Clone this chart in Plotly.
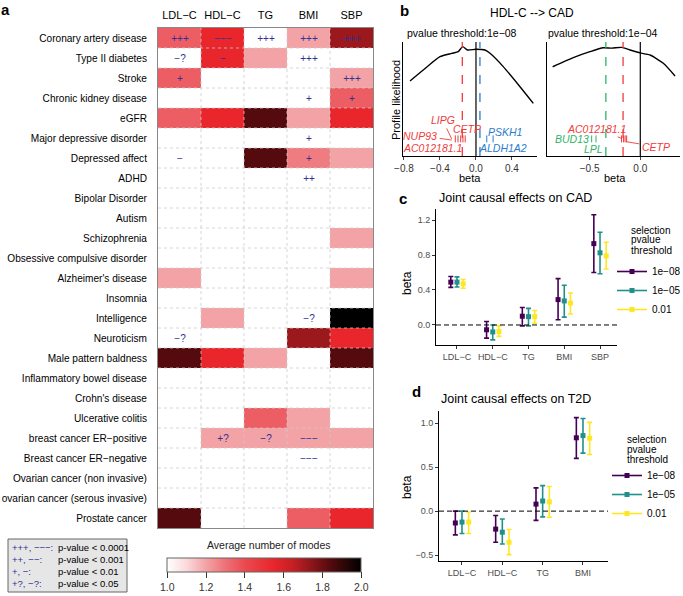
import plotly.graph_objects as go

W, H = 683, 596
FONT = "Liberation Sans, Arial, sans-serif"

# ---------------- panel a data ----------------
traits = ["LDL−C", "HDL−C", "TG", "BMI", "SBP"]
diseases = ["Coronary artery disease", "Type II diabetes", "Stroke", "Chronic kidney disease", "eGFR",
            "Major depressive disorder", "Depressed affect", "ADHD", "Bipolar Disorder", "Autism",
            "Schizophrenia", "Obsessive compulsive disorder", "Alzheimer's disease", "Insomnia",
            "Intelligence", "Neuroticism", "Male pattern baldness", "Inflammatory bowel disease",
            "Crohn's disease", "Ulcerative colitis", "breast cancer ER−positive",
            "Breast cancer ER−negative", "Ovarian cancer (non invasive)",
            "ovarian cancer (serous invasive)", "Prostate cancer"]
avg_modes = [
    [1.35, 1.55, 1.00, 1.20, 1.72],
    [1.00, 1.55, 1.20, 1.00, 1.00],
    [1.35, 1.00, 1.00, 1.00, 1.20],
    [1.00, 1.00, 1.00, 1.00, 1.35],
    [1.35, 1.55, 1.84, 1.20, 1.55],
    [1.00, 1.00, 1.00, 1.00, 1.00],
    [1.00, 1.00, 1.84, 1.28, 1.20],
    [1.00, 1.00, 1.00, 1.00, 1.00],
    [1.00, 1.00, 1.00, 1.00, 1.00],
    [1.00, 1.00, 1.00, 1.00, 1.00],
    [1.00, 1.00, 1.00, 1.00, 1.20],
    [1.00, 1.00, 1.00, 1.00, 1.00],
    [1.20, 1.00, 1.00, 1.00, 1.20],
    [1.00, 1.00, 1.00, 1.00, 1.00],
    [1.00, 1.20, 1.00, 1.00, 2.00],
    [1.00, 1.00, 1.00, 1.72, 1.55],
    [1.84, 1.55, 1.20, 1.00, 1.84],
    [1.00, 1.00, 1.00, 1.00, 1.00],
    [1.00, 1.00, 1.00, 1.00, 1.00],
    [1.00, 1.00, 1.35, 1.20, 1.00],
    [1.00, 1.20, 1.20, 1.20, 1.20],
    [1.00, 1.00, 1.00, 1.00, 1.00],
    [1.00, 1.00, 1.00, 1.00, 1.00],
    [1.00, 1.00, 1.00, 1.00, 1.00],
    [1.84, 1.00, 1.00, 1.35, 1.55],
]
signif = [
    ["+++", "−−−", "+++", "+++", "+++"],
    ["−?", "−", "", "+++", ""],
    ["+", "", "", "", "+++"],
    ["", "", "", "+", "+"],
    ["", "", "", "", ""],
    ["", "", "", "+", ""],
    ["−", "", "", "+", ""],
    ["", "", "", "++", ""],
    ["", "", "", "", ""],
    ["", "", "", "", ""],
    ["", "", "", "", ""],
    ["", "", "", "", ""],
    ["", "", "", "", ""],
    ["", "", "", "", ""],
    ["", "", "", "−?", ""],
    ["−?", "", "", "", ""],
    ["", "", "", "", ""],
    ["", "", "", "", ""],
    ["", "", "", "", ""],
    ["", "", "", "", ""],
    ["", "+?", "−?", "−−−", ""],
    ["", "", "", "−−−", ""],
    ["", "", "", "", ""],
    ["", "", "", "", ""],
    ["", "", "", "", ""],
]
cbar_ticks = [1.0, 1.2, 1.4, 1.6, 1.8, 2.0]
sig_legend_sym = ["+++, −−−:", "++, −−:", "+, −:", "+?, −?:"]
sig_legend_txt = ["p-value < 0.0001", "p-value < 0.001", "p-value < 0.01", "p-value < 0.05"]

# ---------------- panel b data ----------------
b_left_beta = [-0.733, -0.586, -0.4, -0.27, -0.197, -0.148, -0.097, 0.0, 0.1, 0.156, 0.303, 0.489, 0.637]
b_left_lik = [0.658, 0.754, 0.871, 0.90, 0.915, 0.959, 0.93, 0.936, 0.93, 0.901, 0.784, 0.608, 0.462]
b_right_beta = [-0.865, -0.661, -0.497, -0.365, -0.28, -0.184, -0.102, -0.003, 0.096, 0.227, 0.343]
b_right_lik = [0.783, 0.863, 0.915, 0.949, 0.946, 0.953, 0.93, 0.904, 0.886, 0.813, 0.702]
b_left_modes = {"red": -0.152, "blue": 0.044}
b_right_modes = {"green": -0.34, "red": -0.17}
rug_left = {"red": [-0.23, -0.2, -0.17, -0.145, -0.12], "blue": [0.12, 0.19]}
rug_right = {"green": [-0.48, -0.437], "red": [-0.185, -0.165, -0.15, -0.135]}
rug_level = 0.15
genes_left = ["LIPG", "CETP", "NUP93", "AC012181.1", "PSKH1", "ALDH1A2"]
genes_left_beta = [-0.37, -0.10, -0.62, -0.478, 0.32, 0.30]
genes_left_lik = [0.316, 0.237, 0.178, 0.067, 0.213, 0.067]
genes_left_col = ["red", "red", "red", "red", "blue", "blue"]
genes_left_ptr = [(-0.27, 0.15), None, (-0.27, 0.14), None, None, None]
genes_right = ["AC012181.1", "BUD13", "LPL", "CETP"]
genes_right_beta = [-0.43, -0.677, -0.464, 0.152]
genes_right_lik = [0.237, 0.149, 0.059, 0.082]
genes_right_col = ["red", "green", "green", "red"]
genes_right_ptr = [(-0.184, 0.155), None, None, (-0.134, 0.125)]

# ---------------- panels c / d data ----------------
thresholds = ["1e−08", "1e−05", "0.01"]
cats_c = ["LDL−C", "HDL−C", "TG", "BMI", "SBP"]
beta_c = [[0.49, -0.055, 0.10, 0.29, 0.93],
          [0.49, -0.08, 0.095, 0.275, 0.825],
          [0.47, -0.075, 0.095, 0.25, 0.79]]
lo_c = [[0.43, -0.15, -0.01, 0.06, 0.60],
        [0.435, -0.17, -0.01, 0.09, 0.585],
        [0.42, -0.13, 0.02, 0.125, 0.64]]
hi_c = [[0.555, 0.04, 0.20, 0.53, 1.26],
        [0.55, 0.0, 0.19, 0.455, 1.06],
        [0.52, -0.01, 0.165, 0.365, 0.945]]
cats_d = ["LDL−C", "HDL−C", "TG", "BMI"]
beta_d = [[-0.135, -0.205, 0.08, 0.835],
          [-0.125, -0.24, 0.115, 0.86],
          [-0.125, -0.355, 0.105, 0.83]]
lo_d = [[-0.27, -0.355, -0.105, 0.60],
        [-0.255, -0.375, -0.065, 0.66],
        [-0.255, -0.495, -0.07, 0.645]]
hi_d = [[0.0, -0.05, 0.265, 1.065],
        [0.0, -0.09, 0.29, 1.055],
        [-0.01, -0.21, 0.28, 1.01]]

# ---------------- styles ----------------
NAVY = "#2e3192"
GENE_COL = {"red": "#ef3b3b", "blue": "#2b7bcc", "green": "#2fb36a"}
VIR = ["#440154", "#21908C", "#FDE725"]
colorscale = [[0.0, "#ffffff"], [0.1, "#fadadb"], [0.2, "#f3a3a6"], [0.3, "#ee7277"],
              [0.4, "#ea4a50"], [0.55, "#e8262c"], [0.65, "#c41f25"], [0.75, "#8a151a"],
              [0.85, "#4f0a0d"], [1.0, "#000000"]]


def dx(a, b):
    return [a / W, b / W]


def dy(top, bottom):
    return [1 - bottom / H, 1 - top / H]


def fx(x):
    return x / W


def fy(y):
    return 1 - y / H


fig = go.Figure()

# ---- heatmap
fig.add_trace(go.Heatmap(
    x=traits, y=diseases, z=avg_modes, text=signif, texttemplate="%{text}",
    textfont=dict(color=NAVY, size=10, family=FONT),
    colorscale=colorscale, zmin=1, zmax=2, xaxis="x", yaxis="y",
    colorbar=dict(orientation="h", x=fx(264.3), xanchor="center", y=fy(558), yanchor="top",
                  len=194, lenmode="pixels", thickness=14, thicknessmode="pixels",
                  xpad=0, ypad=0, outlinewidth=1, outlinecolor="#666",
                  tickvals=cbar_ticks, ticktext=[f"{v:.1f}" for v in cbar_ticks],
                  ticks="outside", ticklen=6, tickcolor="#333",
                  tickfont=dict(size=10.5, color="#333", family=FONT)),
    hoverinfo="skip"))

shapes = []
for i in range(1, len(traits)):
    shapes.append(dict(type="line", xref="x", yref="y domain", x0=i - 0.5, x1=i - 0.5, y0=0, y1=1,
                       line=dict(color="#cccccc", width=0.8, dash="dot"), layer="above"))
for j in range(1, len(diseases)):
    shapes.append(dict(type="line", xref="x domain", yref="y", x0=0, x1=1, y0=j - 0.5, y1=j - 0.5,
                       line=dict(color="#cccccc", width=0.8, dash="dot"), layer="above"))

# ---- panel b
for xa, ya, bx, by in [("x2", "y2", b_left_beta, b_left_lik), ("x3", "y3", b_right_beta, b_right_lik)]:
    fig.add_trace(go.Scatter(x=bx, y=by, mode="lines", line=dict(color="black", width=1.4, shape="spline", smoothing=0.6),
                             xaxis=xa, yaxis=ya, showlegend=False, hoverinfo="skip"))
for xa, ya, rugs in [("x2", "y2", rug_left), ("x3", "y3", rug_right)]:
    for col, vals in rugs.items():
        fig.add_trace(go.Scatter(x=vals, y=[rug_level] * len(vals), mode="markers",
                                 marker=dict(symbol="line-ns", size=5, line=dict(color=GENE_COL[col], width=1)),
                                 xaxis=xa, yaxis=ya, showlegend=False, hoverinfo="skip"))
for xa, modes in [("x2", b_left_modes), ("x3", b_right_modes)]:
    ya = "y" + xa[1:]
    shapes.append(dict(type="line", xref=xa, yref=ya + " domain", x0=0, x1=0, y0=0, y1=1,
                       line=dict(color="black", width=1.2)))
    for col, v in modes.items():
        shapes.append(dict(type="line", xref=xa, yref=ya + " domain", x0=v, x1=v, y0=0, y1=1,
                           line=dict(color=GENE_COL[col], width=1.3, dash="dash")))

# ---- panels c / d
for xa, ya, beta, lo, hi, off in [("x4", "y4", beta_c, lo_c, hi_c, 0.173), ("x5", "y5", beta_d, lo_d, hi_d, 0.165)]:
    for k in range(3):
        xs = [i + (k - 1) * off for i in range(len(beta[k]))]
        fig.add_trace(go.Scatter(
            x=xs, y=beta[k], mode="markers",
            marker=dict(symbol="square", size=5, color=VIR[k]),
            error_y=dict(type="data", symmetric=False,
                         array=[h - b for h, b in zip(hi[k], beta[k])],
                         arrayminus=[b - l for b, l in zip(beta[k], lo[k])],
                         color=VIR[k], thickness=1.6, width=2.5),
            xaxis=xa, yaxis=ya, showlegend=False, hoverinfo="skip"))
    shapes.append(dict(type="line", xref=xa + " domain", yref=ya, x0=0, x1=1, y0=0, y1=0,
                       line=dict(color="black", width=1, dash="5px,3px")))
for lg, xa, ya in [("legend", "x4", "y4"), ("legend2", "x5", "y5")]:
    for k in range(3):
        fig.add_trace(go.Scatter(x=[None], y=[None], mode="lines+markers", name=thresholds[k],
                                 marker=dict(symbol="square", size=5, color=VIR[k]),
                                 line=dict(color=VIR[k], width=1.6),
                                 xaxis=xa, yaxis=ya, legend=lg, showlegend=True))

# legend box (panel a)
shapes.append(dict(type="rect", xref="paper", yref="paper", x0=fx(8), x1=fx(127), y0=fy(592), y1=fy(539),
                   fillcolor="#e6e6e6", line=dict(color="#666", width=1), layer="below"))

ann = []


def A(text, x, y, size=11, color="black", xanchor="center", yanchor="middle", bold=False, italic=False, **kw):
    t = text
    if bold:
        t = f"<b>{t}</b>"
    if italic:
        t = f"<i>{t}</i>"
    d = dict(text=t, x=x, y=y, xref="paper", yref="paper", showarrow=False, xanchor=xanchor, yanchor=yanchor,
             font=dict(size=size, color=color, family=FONT))
    d.update(kw)
    ann.append(d)


A("a", fx(5), fy(9), size=15, bold=True)
A("b", fx(404), fy(10), size=15, bold=True)
A("c", fx(403), fy(198), size=15, bold=True)
A("d", fx(416), fy(391), size=15, bold=True)
A("HDL-C --> CAD", fx(532), fy(13), size=12)
A("pvalue threshold:1e−08", fx(405), fy(33), size=10.5, xanchor="left")
A("pvalue threshold:1e−04", fx(546), fy(33), size=10.5, xanchor="left")
A("Profile likelihood", fx(396), fy(100), size=11, textangle=-90)
A("beta", fx(470), fy(178), size=11)
A("beta", fx(615), fy(178), size=11)
A("Joint causal effects on CAD", fx(437), fy(198), size=12.5, xanchor="left")
A("Joint causal effects on T2D", fx(439), fy(399), size=12.5, xanchor="left")
A("beta", fx(407), fy(283), size=12, textangle=-90)
A("beta", fx(407), fy(487), size=12, textangle=-90)
A("Average number of modes", fx(269), fy(545), size=10.5, color="#222")
for i, line in enumerate(["selection", "pvalue", "threshold"]):
    A(line, fx(629), fy(230 + 10 * i), size=10, xanchor="left")
    A(line, fx(625), fy(439 + 10.2 * i), size=10, xanchor="left")
for i, (s, t) in enumerate(zip(sig_legend_sym, sig_legend_txt)):
    yy = fy(547 + 12.2 * i)
    A(s, fx(10), yy, size=9.5, color=NAVY, xanchor="left")
    A(t, fx(56), yy, size=9.5, color="black", xanchor="left")

# gene labels
for xa, ya, names, bb, ll, cc, pp in [("x2", "y2", genes_left, genes_left_beta, genes_left_lik, genes_left_col, genes_left_ptr),
                                      ("x3", "y3", genes_right, genes_right_beta, genes_right_lik, genes_right_col, genes_right_ptr)]:
    for n, b, l, c, p in zip(names, bb, ll, cc, pp):
        col = GENE_COL[c]
        if p is None:
            ann.append(dict(text=f"<i>{n}</i>", x=b, y=l, xref=xa, yref=ya, showarrow=False,
                            font=dict(size=10.5, color=col, family=FONT)))
        else:
            ann.append(dict(text=f"<i>{n}</i>", x=p[0], y=p[1], xref=xa, yref=ya, ax=b, ay=l,
                            axref=xa, ayref=ya, showarrow=True, arrowhead=0, arrowwidth=0.9,
                            arrowcolor=col, standoff=0, startstandoff=1,
                            font=dict(size=10.5, color=col, family=FONT)))

ax_common = dict(showgrid=False, zeroline=False, fixedrange=True, automargin=False)
tick_font_b = dict(size=10, color="#333", family=FONT)
tick_font_cd = dict(size=9, color="#4d4d4d", family=FONT)

fig.update_layout(
    width=W, height=H, margin=dict(l=0, r=0, t=0, b=0, autoexpand=False), template="none",
    paper_bgcolor="white", plot_bgcolor="white", font=dict(family=FONT, color="black"),
    xaxis=dict(domain=dx(158, 373), anchor="y", side="top", tickfont=dict(size=11, color="black", family=FONT),
               ticks="", showline=True, mirror=True, linecolor="#888", linewidth=1, ticklabelstandoff=4, **ax_common),
    yaxis=dict(domain=dy(28, 528), anchor="x", autorange="reversed", tickfont=dict(size=10.1, color="black", family=FONT),
               ticks="", showline=True, mirror=True, linecolor="#888", linewidth=1, ticklabelstandoff=8, **ax_common),
    xaxis2=dict(domain=dx(403, 537), anchor="y2", range=[-0.811, 0.678], showline=True, linecolor="black",
                tickvals=[-0.8, -0.4, 0.0, 0.4], ticktext=["−0.8", "−0.4", "0.0", "0.4"], ticks="outside",
                ticklen=3, tickfont=tick_font_b, **ax_common),
    yaxis2=dict(domain=dy(42, 156), anchor="x2", range=[0, 1], showline=True, linecolor="black",
                showticklabels=False, ticks="", **ax_common),
    xaxis3=dict(domain=dx(546.7, 680), anchor="y3", range=[-0.924, 0.392], showline=True, linecolor="black",
                tickvals=[-0.5, 0.0], ticktext=["−0.5", "0.0"], ticks="outside", ticklen=3,
                tickfont=tick_font_b, **ax_common),
    yaxis3=dict(domain=dy(42, 156), anchor="x3", range=[0, 1], showline=True, linecolor="black",
                showticklabels=False, ticks="", **ax_common),
    xaxis4=dict(domain=dx(436, 617), anchor="y4", range=[-0.587, 4.475], showline=True, linecolor="black",
                tickvals=list(range(len(cats_c))), ticktext=cats_c, ticks="outside", ticklen=3,
                tickcolor="#333", tickfont=tick_font_cd, **ax_common),
    yaxis4=dict(domain=dy(209, 345), anchor="x4", range=[-0.229, 1.326], showline=True, linecolor="black",
                tickvals=[0, 0.4, 0.8, 1.2], ticktext=["0.0", "0.4", "0.8", "1.2"], ticks="outside", ticklen=3,
                tickcolor="#333", tickfont=tick_font_cd, **ax_common),
    xaxis5=dict(domain=dx(439, 608), anchor="y5", range=[-0.57, 3.62], showline=True, linecolor="black",
                tickvals=list(range(len(cats_d))), ticktext=cats_d, ticks="outside", ticklen=3,
                tickcolor="#333", tickfont=tick_font_cd, **ax_common),
    yaxis5=dict(domain=dy(411, 561), anchor="x5", range=[-0.568, 1.14], showline=True, linecolor="black",
                tickvals=[-0.5, 0, 0.5, 1.0], ticktext=["−0.5", "0.0", "0.5", "1.0"], ticks="outside", ticklen=3,
                tickcolor="#333", tickfont=tick_font_cd, **ax_common),
    legend=dict(x=fx(612), y=fy(257), xanchor="left", yanchor="top", bgcolor="rgba(0,0,0,0)",
                font=dict(size=10, family=FONT), itemwidth=30, tracegroupgap=0),
    legend2=dict(x=fx(607), y=fy(461), xanchor="left", yanchor="top", bgcolor="rgba(0,0,0,0)",
                 font=dict(size=10, family=FONT), itemwidth=30, tracegroupgap=0),
    shapes=shapes, annotations=ann,
)

fig.write_html("out.html", config={"displayModeBar": False, "staticPlot": True},
               post_script="document.body.style.margin='0px';document.body.style.overflow='hidden';")
